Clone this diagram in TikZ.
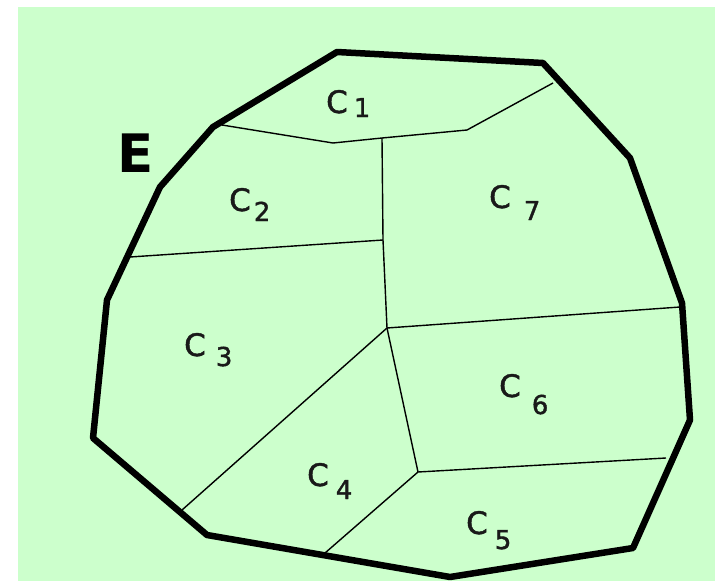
\documentclass[tikz,border=0pt]{standalone}
\usepackage{fontspec}
\setmainfont{DejaVu Sans}
\newfontfamily\labfont[FakeBold=1.5]{DejaVu Sans}
\definecolor{bgreen}{RGB}{204,255,204}
\newcommand\celllabel[3]{C\kern#1pt\raisebox{-#2pt}{\fontsize{26}{26}\selectfont #3}}
\begin{document}
\begin{tikzpicture}[x=1pt,y=-1pt,
  outline/.style={line width=6.5pt, line join=round},
  wall/.style={line width=1.4pt},
  lab/.style={anchor=base west, inner sep=0pt, text=black!90, font=\labfont\fontsize{31}{31}\selectfont}]
\useasboundingbox (0,0) rectangle (715,581);
\fill[white] (0,0) rectangle (715,581);
\fill[bgreen] (18,7) rectangle (715,581);
% outer boundary vertices
\coordinate (P1) at (337,52);
\coordinate (P2) at (543,63);
\coordinate (P3) at (630,158);
\coordinate (P4) at (682,303);
\coordinate (P5) at (690,420);
\coordinate (P6) at (633,548);
\coordinate (P7) at (450,577);
\coordinate (P8) at (207,535);
\coordinate (P9) at (93,438);
\coordinate (P10) at (107,300);
\coordinate (P11) at (160,187);
\coordinate (P12) at (213,127);
% interior vertices
\coordinate (A) at (222,125);
\coordinate (B) at (333,143);
\coordinate (J1) at (382,138);
\coordinate (D) at (467,130);
\coordinate (F) at (553,83);
\coordinate (G) at (130,257);
\coordinate (J2) at (383,240);
\coordinate (J3) at (387,328);
\coordinate (H) at (680,307);
\coordinate (K) at (182,510);
\coordinate (J4) at (418,472);
\coordinate (L) at (666,458);
\coordinate (M) at (325,553);
% interior walls
\draw[wall] (A) -- (B) -- (J1) -- (D) -- (F);
\draw[wall] (J1) -- (J2) -- (J3);
\draw[wall] (G) -- (J2);
\draw[wall] (J3) -- (H);
\draw[wall] (J3) -- (K);
\draw[wall] (J3) -- (J4);
\draw[wall] (J4) -- (L);
\draw[wall] (J4) -- (M);
% boundary
\draw[outline] (P1) -- (P2) -- (P3) -- (P4) -- (P5) -- (P6) -- (P7) -- (P8) -- (P9) -- (P10) -- (P11) -- (P12) -- cycle;
% labels
\node[anchor=base west, inner sep=0pt, font=\fontsize{53}{53}\selectfont\bfseries] (E) at (117,172) {E};
\node[lab] (c1) at (326,113) {\celllabel{6}{4}{1}};
\node[lab] (c2) at (229,211) {\celllabel{3}{10}{2}};
\node[lab] (c7) at (489,208) {\celllabel{13}{12}{7}};
\node[lab] (c3) at (184,356) {\celllabel{10}{10}{3}};
\node[lab] (c4) at (307,486) {\celllabel{7}{13}{4}};
\node[lab] (c6) at (499,397) {\celllabel{11}{17}{6}};
\node[lab] (c5) at (466,534) {\celllabel{7}{15}{5}};
\end{tikzpicture}
\end{document}
